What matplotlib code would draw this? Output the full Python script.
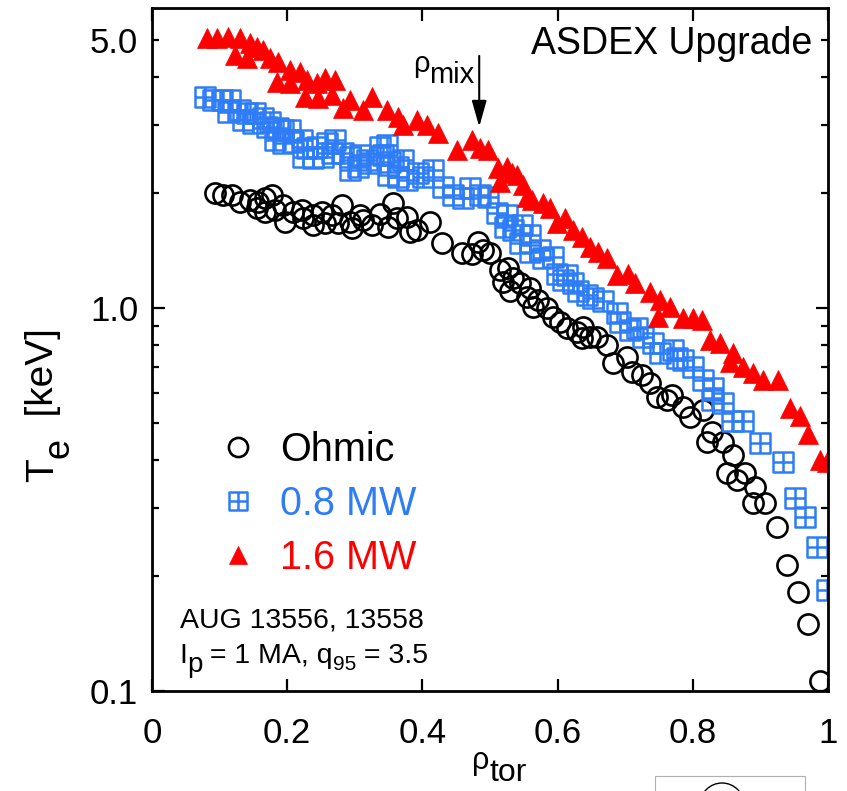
import numpy as np
import matplotlib.pyplot as plt
from matplotlib.path import Path
from matplotlib.patches import Rectangle, Arc
from matplotlib.ticker import FixedLocator, FuncFormatter

plt.rcParams['font.family'] = ['Liberation Sans', 'DejaVu Sans']

# Ohmic
rho_ohm = [0.093, 0.105, 0.118, 0.130, 0.145, 0.157, 0.167, 0.178, 0.155, 0.167,
           0.182, 0.194, 0.197, 0.209, 0.222, 0.223, 0.238, 0.238, 0.251, 0.256,
           0.266, 0.281, 0.275, 0.293, 0.296, 0.308, 0.312, 0.325, 0.337, 0.349,
           0.357, 0.362, 0.377, 0.382, 0.392, 0.411, 0.429, 0.459, 0.473, 0.482,
           0.490, 0.500, 0.515, 0.527, 0.519, 0.534, 0.530, 0.544, 0.559, 0.555,
           0.571, 0.564, 0.584, 0.593, 0.604, 0.614, 0.629, 0.636, 0.638, 0.648,
           0.658, 0.673, 0.682, 0.703, 0.710, 0.725, 0.737, 0.747, 0.762, 0.769,
           0.786, 0.796, 0.815, 0.828, 0.821, 0.845, 0.859, 0.851, 0.865, 0.877,
           0.892, 0.889, 0.907, 0.925, 0.939, 0.956, 0.970, 0.988]
te_ohm = [2.00, 1.97, 1.97, 1.89, 1.91, 1.89, 1.94, 1.97, 1.82, 1.78,
          1.80, 1.86, 1.68, 1.78, 1.80, 1.72, 1.65, 1.75, 1.78, 1.67,
          1.75, 1.86, 1.67, 1.68, 1.62, 1.75, 1.70, 1.65, 1.76, 1.63,
          1.88, 1.72, 1.73, 1.58, 1.60, 1.68, 1.48, 1.39, 1.38, 1.49,
          1.42, 1.39, 1.26, 1.27, 1.17, 1.20, 1.11, 1.16, 1.13, 1.07,
          1.05, 1.006, 1.00, 0.947, 0.919, 0.887, 0.866, 0.835, 0.892, 0.840,
          0.840, 0.800, 0.718, 0.745, 0.681, 0.668, 0.637, 0.586, 0.575, 0.593,
          0.551, 0.519, 0.542, 0.475, 0.447, 0.447, 0.413, 0.371, 0.356, 0.371,
          0.341, 0.310, 0.310, 0.268, 0.213, 0.181, 0.150, 0.106]

# 0.8 MW
rho_08 = [0.078, 0.090, 0.104, 0.115, 0.112, 0.130, 0.141, 0.152, 0.135, 0.164,
          0.175, 0.149, 0.170, 0.186, 0.194, 0.204, 0.182, 0.194, 0.209, 0.222,
          0.229, 0.244, 0.259, 0.271, 0.223, 0.238, 0.253, 0.266, 0.283, 0.293,
          0.308, 0.318, 0.293, 0.305, 0.322, 0.337, 0.348, 0.342, 0.352, 0.364,
          0.371, 0.349, 0.364, 0.377, 0.393, 0.401, 0.416, 0.430, 0.445, 0.460,
          0.470, 0.485, 0.497, 0.510, 0.522, 0.525, 0.534, 0.544, 0.547, 0.559,
          0.559, 0.574, 0.578, 0.593, 0.599, 0.614, 0.608, 0.623, 0.630, 0.643,
          0.652, 0.667, 0.688, 0.692, 0.707, 0.717, 0.726, 0.741, 0.751, 0.771,
          0.777, 0.786, 0.800, 0.815, 0.830, 0.828, 0.845, 0.858, 0.874, 0.899,
          0.933, 0.951, 0.966, 0.984, 0.999]
te_08 = [3.56, 3.49, 3.49, 3.49, 3.25, 3.29, 3.23, 3.23, 3.10, 3.13,
         3.06, 3.04, 2.97, 2.95, 2.92, 2.92, 2.75, 2.70, 2.71, 2.75,
         2.62, 2.63, 2.70, 2.75, 2.48, 2.46, 2.48, 2.54, 2.54, 2.48,
         2.51, 2.43, 2.29, 2.33, 2.39, 2.63, 2.67, 2.51, 2.41, 2.33,
         2.43, 2.23, 2.20, 2.16, 2.25, 2.20, 2.29, 2.07, 1.97, 1.94,
         2.06, 1.97, 1.95, 1.77, 1.63, 1.75, 1.60, 1.48, 1.65, 1.55,
         1.40, 1.42, 1.35, 1.36, 1.23, 1.22, 1.18, 1.16, 1.11, 1.08,
         1.06, 1.04, 0.970, 0.919, 0.876, 0.887, 0.840, 0.810, 0.763, 0.777,
         0.740, 0.731, 0.702, 0.649, 0.618, 0.575, 0.565, 0.507, 0.507, 0.444,
         0.396, 0.319, 0.285, 0.238, 0.184]

# 1.6 MW
rho_16 = [0.081, 0.096, 0.112, 0.130, 0.145, 0.155, 0.164, 0.123, 0.141, 0.175,
          0.186, 0.204, 0.219, 0.185, 0.204, 0.229, 0.244, 0.256, 0.271, 0.226,
          0.246, 0.266, 0.293, 0.325, 0.283, 0.312, 0.348, 0.364, 0.371, 0.392,
          0.407, 0.423, 0.451, 0.473, 0.485, 0.497, 0.512, 0.515, 0.525, 0.533,
          0.540, 0.549, 0.555, 0.562, 0.578, 0.589, 0.599, 0.611, 0.623, 0.636,
          0.648, 0.660, 0.673, 0.688, 0.704, 0.714, 0.737, 0.751, 0.766, 0.749,
          0.786, 0.800, 0.814, 0.825, 0.840, 0.859, 0.855, 0.874, 0.889, 0.904,
          0.926, 0.944, 0.959, 0.970, 0.988, 0.999]
te_16 = [5.07, 5.07, 5.10, 5.07, 4.92, 4.80, 4.72, 4.58, 4.49, 4.49,
         4.39, 4.18, 4.13, 3.89, 3.87, 3.94, 3.87, 3.99, 3.94, 3.56,
         3.53, 3.60, 3.49, 3.56, 3.33, 3.29, 3.29, 3.15, 3.00, 3.10,
         3.00, 2.86, 2.58, 2.75, 2.62, 2.58, 2.32, 2.13, 2.33, 2.25,
         2.23, 2.10, 1.95, 1.91, 1.88, 1.82, 1.67, 1.72, 1.60, 1.53,
         1.44, 1.40, 1.35, 1.22, 1.23, 1.16, 1.10, 1.05, 1.006, 0.947,
         0.942, 0.942, 0.930, 0.825, 0.810, 0.763, 0.723, 0.702, 0.677, 0.649,
         0.649, 0.548, 0.522, 0.470, 0.400, 0.396]

rho_mix = 0.484
blue = '#2f7df6'
red = '#ff0000'

# square with a cross inside
sq_plus = Path([(-1, -1), (1, -1), (1, 1), (-1, 1), (-1, -1),
                (0, -1), (0, 1), (-1, 0), (1, 0)],
               [Path.MOVETO, Path.LINETO, Path.LINETO, Path.LINETO, Path.CLOSEPOLY,
                Path.MOVETO, Path.LINETO, Path.MOVETO, Path.LINETO])

fig = plt.figure(figsize=(8.47, 7.91), dpi=100)
ax = fig.add_axes([0.1795, 0.1264, 0.7981, 0.8635])


def chain(parts, x0, y0, vertical=False):
    # text pieces laid end to end, (text, size, drop in px) -> lowered subscripts
    prev = None
    for s, fs, drop in parts:
        if vertical:
            xy = (x0, 1) if prev else (x0, y0)
            xyc = ('figure pixels', prev) if prev else 'figure pixels'
            off, rot = (drop, 0), 90
        else:
            xy = (1, y0) if prev else (x0, y0)
            xyc = (prev, 'figure pixels') if prev else 'figure pixels'
            off, rot = (0, -drop), 0
        prev = ax.annotate(s, xy=xy, xycoords=xyc, xytext=off,
                           textcoords='offset pixels', fontsize=fs,
                           rotation=rot, rotation_mode='anchor',
                           ha='left', va='baseline')


l_ohm, = ax.plot(rho_ohm, te_ohm, linestyle='none', marker='o', ms=14.5,
                 mfc='none', mec='black', mew=1.9, label='Ohmic')
l_08, = ax.plot(rho_08, te_08, linestyle='none', marker=sq_plus, ms=14,
                mfc='none', mec=blue, mew=1.8, label='0.8 MW')
l_16, = ax.plot(rho_16, te_16, linestyle='none', marker='^', ms=14,
                mfc=red, mec=red, mew=0.5, label='1.6 MW')

ax.set_yscale('log')
ax.set_xlim(0, 1)
ax.set_ylim(0.1, 6.07)

ax.set_xticks([0, 0.2, 0.4, 0.6, 0.8, 1.0])
ax.set_xticklabels(['0', '0.2', '0.4', '0.6', '0.8', '1'])
ax.yaxis.set_major_locator(FixedLocator([0.1, 1.0]))
ax.yaxis.set_major_formatter(FuncFormatter(lambda v, p: '%.1f' % v))
ax.yaxis.set_minor_locator(FixedLocator([0.2, 0.3, 0.4, 0.5, 0.6, 0.7, 0.8, 0.9,
                                         2, 3, 4, 5]))
ax.yaxis.set_minor_formatter(FuncFormatter(lambda v, p: '5.0' if abs(v - 5) < 1e-6 else ''))

ax.tick_params(which='both', direction='in', top=True, right=True,
               labelsize=25, width=1.6)
ax.tick_params(which='major', length=9)
ax.tick_params(which='minor', length=5)
ax.tick_params(axis='x', pad=19)
ax.tick_params(axis='y', which='both', pad=10)
for s in ax.spines.values():
    s.set_linewidth(2)

# axis labels with big lowered subscripts
chain([('T', 28, 0), ('e', 26, 15), ('  [keV]', 28, 0)], 53, 309, vertical=True)
chain([('ρ', 22, 0), ('tor', 23, 12)], 472, 22)

ax.text(0.976, 0.9327, 'ASDEX Upgrade', transform=ax.transAxes,
        ha='right', va='baseline', fontsize=27)
ax.text(0.041, 0.0937, 'AUG 13556, 13558', transform=ax.transAxes,
        ha='left', va='baseline', fontsize=20.5)
chain([('I', 20.5, 0), ('p', 20, 9), (' = 1 MA, q', 20.5, 0), ('95', 15, 7),
       (' = 3.5', 20.5, 0)], 179, 128)

# rho_mix marker
ax.annotate('', xy=(rho_mix, 2.97), xytext=(rho_mix, 4.55),
            arrowprops=dict(arrowstyle='-|>,head_length=1.6,head_width=0.45',
                            mutation_scale=10, lw=1.5, color='black',
                            shrinkA=0, shrinkB=0))
chain([('ρ', 21, 0), ('mix', 21, 11)], 413, 719)

leg = ax.legend(handles=[l_ohm, l_08, l_16], loc='upper left',
                bbox_to_anchor=(0.0976, 0.381), frameon=False, fontsize=28.5,
                handlelength=1.0, handletextpad=0.566, labelspacing=0.41,
                borderpad=0, borderaxespad=0, markerscale=0.95)
for t, c in zip(leg.get_texts(), ['black', blue, red]):
    t.set_color(c)

# edge of the neighbouring panel, cut off at the bottom
fig.add_artist(Rectangle((655 / 847, -0.01), 150 / 847, 23 / 791,
                         transform=fig.transFigure, fill=False,
                         ec='#b0b0b0', lw=0.8))
fig.add_artist(Arc((722 / 847, -14 / 791), 44 / 847, 44 / 791,
                   theta1=0, theta2=180, transform=fig.transFigure,
                   ec='black', lw=1))

fig.savefig('out.png', dpi=100)
